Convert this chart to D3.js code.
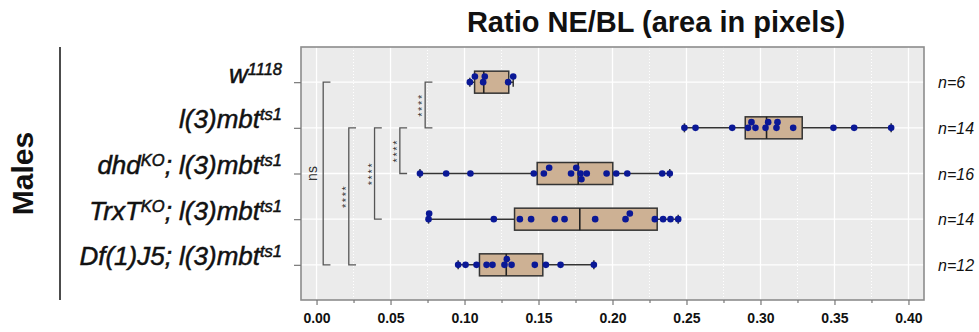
<!DOCTYPE html>
<html>
<head>
<meta charset="utf-8">
<script src="https://cdn.jsdelivr.net/npm/d3@7"></script>
<style>
  body { margin: 0; background: #fff; font-family: "Liberation Sans", Arial, sans-serif; }
</style>
</head>
<body>
<svg id="chart"></svg>
<script>
let width = 979;
let height = 332;

// genotypes (top to bottom)
const groups = ["w1118", "l(3)mbt", "dhd", "TrxT", "Df(1)J5"];
// label pieces: [text, superscript]
const labelParts = [
    [["w", "1118"]],
    [["l(3)mbt", "ts1"]],
    [["dhd", "KO"], ["; l(3)mbt", "ts1"]],
    [["TrxT", "KO"], ["; l(3)mbt", "ts1"]],
    [["Df(1)J5; l(3)mbt", "ts1"]]
];
const nLabels = ["n=6", "n=14", "n=16", "n=14", "n=12"];

// ratio NE/BL, one array per genotype
const ratio_w1118 = [0.1036, 0.1070, 0.1126, 0.1137, 0.1295, 0.1329];
const ratio_l3mbt = [0.2486, 0.2561, 0.2809, 0.2916, 0.2939, 0.2966, 0.3034, 0.3052, 0.3108, 0.3115, 0.3221, 0.3493, 0.3633, 0.3883];
const ratio_dhd = [0.0699, 0.0876, 0.1040, 0.1468, 0.1536, 0.1572, 0.1720, 0.1755, 0.1784, 0.1790, 0.1826, 0.1960, 0.2025, 0.2100, 0.2336, 0.2387];
const ratio_trxt = [0.0757, 0.0761, 0.1198, 0.1374, 0.1450, 0.1610, 0.1676, 0.1883, 0.2088, 0.2117, 0.2286, 0.2342, 0.2392, 0.2444];
const ratio_df = [0.0957, 0.1007, 0.1081, 0.1149, 0.1189, 0.1270, 0.1286, 0.1318, 0.1475, 0.1550, 0.1649, 0.1874];
const allRatios = [ratio_w1118, ratio_l3mbt, ratio_dhd, ratio_trxt, ratio_df];

// box hinges as drawn
const q1 = [0.1068, 0.2897, 0.1491, 0.1338, 0.1101];
const med = [0.1130, 0.3041, 0.1768, 0.1779, 0.1282];
const q3 = [0.1299, 0.3282, 0.2002, 0.2302, 0.1529];

// significance brackets
const bracketPairs = [["w1118", "Df(1)J5"], ["l(3)mbt", "Df(1)J5"], ["l(3)mbt", "TrxT"], ["l(3)mbt", "dhd"], ["w1118", "l(3)mbt"]];
const bracketPos = [0.0045, 0.0218, 0.0392, 0.0563, 0.0734];
const bracketLabels = ["ns", "****", "****", "****", "****"];

const majorTicks = [0, 0.05, 0.1, 0.15, 0.2, 0.25, 0.3, 0.35, 0.4];
const minorTicks = [0.025, 0.075, 0.125, 0.175, 0.225, 0.275, 0.325, 0.375];

let margin = {top: 47, right: 55, bottom: 32, left: 301};

let svg = d3.select('#chart')
    .attr('width', width)
    .attr('height', height);

let x = d3.scaleLinear()
    .domain([-0.0105, 0.4105])
    .range([margin.left, width - margin.right]);

let y = d3.scalePoint()
    .domain(groups)
    .range([margin.top, height - margin.bottom])
    .padding(0.77);

// panel
svg.append('rect')
    .attr('x', margin.left).attr('y', margin.top)
    .attr('width', width - margin.right - margin.left)
    .attr('height', height - margin.bottom - margin.top)
    .attr('fill', '#ebebeb');

let grid = svg.append('g');
grid.selectAll('.minor')
    .data(minorTicks)
    .join('line')
    .attr('x1', d => x(d)).attr('x2', d => x(d))
    .attr('y1', margin.top).attr('y2', height - margin.bottom)
    .attr('stroke', '#fff').attr('stroke-width', 1)
    .attr('stroke-dasharray', '1,2');
grid.selectAll('.major')
    .data(majorTicks)
    .join('line')
    .attr('x1', d => x(d)).attr('x2', d => x(d))
    .attr('y1', margin.top).attr('y2', height - margin.bottom)
    .attr('stroke', '#fff').attr('stroke-width', 1.3);
grid.selectAll('.hrow')
    .data(groups)
    .join('line')
    .attr('x1', margin.left).attr('x2', width - margin.right)
    .attr('y1', d => y(d)).attr('y2', d => y(d))
    .attr('stroke', '#fff').attr('stroke-width', 1.3);

// brackets
let br = svg.append('g');
bracketPairs.forEach((p, i) => {
    let bx = x(bracketPos[i]);
    let tip = x(bracketPos[i] + 0.0049) - bx;
    let y0 = y(p[0]), y1 = y(p[1]);
    br.append('path')
        .attr('d', `M${bx + tip},${y0}H${bx}V${y1}H${bx + tip}`)
        .attr('fill', 'none')
        .attr('stroke', '#555')
        .attr('stroke-width', 1.3);
    let isNs = bracketLabels[i] === 'ns';
    br.append('text')
        .attr('transform', `translate(${bx - (isNs ? 6 : -1)},${(y0 + y1) / 2}) rotate(-90)`)
        .attr('text-anchor', 'middle')
        .attr('font-size', isNs ? 14 : 11)
        .attr('letter-spacing', isNs ? 0 : 1.6)
        .attr('fill', '#333')
        .text(bracketLabels[i]);
});

// boxplots
let boxH = 22, capH = 9;
let boxes = svg.append('g');
groups.forEach((g, i) => {
    let cy = y(g);
    let ext = d3.extent(allRatios[i]);
    boxes.append('line')
        .attr('x1', x(ext[0])).attr('x2', x(ext[1]))
        .attr('y1', cy).attr('y2', cy)
        .attr('stroke', '#333').attr('stroke-width', 1.5);
    boxes.selectAll(null)
        .data(ext)
        .join('line')
        .attr('x1', d => x(d)).attr('x2', d => x(d))
        .attr('y1', cy - capH / 2).attr('y2', cy + capH / 2)
        .attr('stroke', '#333').attr('stroke-width', 1.5);
    boxes.append('rect')
        .attr('x', x(q1[i])).attr('y', cy - boxH / 2)
        .attr('width', x(q3[i]) - x(q1[i])).attr('height', boxH)
        .attr('fill', '#cdb194')
        .attr('stroke', '#333').attr('stroke-width', 1.5);
    boxes.append('line')
        .attr('x1', x(med[i])).attr('x2', x(med[i]))
        .attr('y1', cy - boxH / 2).attr('y2', cy + boxH / 2)
        .attr('stroke', '#222').attr('stroke-width', 1.6);
});

// simple beeswarm: discrete vertical offsets
function swarm(vals, step, minDist) {
    let placed = [];
    let order = vals.map((v, i) => i).sort((a, b) => vals[a] - vals[b]);
    let out = new Array(vals.length);
    order.forEach(i => {
        let px = x(vals[i]);
        for (let k of [0, -1, 1, -2, 2, -3, 3]) {
            let dy = k * step;
            let hit = placed.some(p => (p[0] - px) ** 2 + (p[1] - dy) ** 2 < minDist * minDist);
            if (!hit) {
                placed.push([px, dy]);
                out[i] = dy;
                break;
            }
        }
    });
    return out;
}

let pts = svg.append('g');
groups.forEach((g, i) => {
    let offs = swarm(allRatios[i], 5.7, 5.6);
    pts.selectAll(null)
        .data(allRatios[i])
        .join('circle')
        .attr('cx', d => x(d))
        .attr('cy', (d, j) => y(g) + offs[j])
        .attr('r', 3.3)
        .attr('fill', '#0a1896');
});

// panel border
svg.append('rect')
    .attr('x', margin.left).attr('y', margin.top)
    .attr('width', width - margin.right - margin.left)
    .attr('height', height - margin.bottom - margin.top)
    .attr('fill', 'none')
    .attr('stroke', '#8c8c8c').attr('stroke-width', 1.6);

// x axis
let xAxis = g => g
    .attr('transform', `translate(0,${height - margin.bottom})`)
    .call(d3.axisBottom(x).tickValues(majorTicks).tickFormat(d3.format('.2f')).tickSize(5).tickPadding(8))
    .call(g => g.select('.domain').remove())
    .call(g => g.selectAll('.tick line').attr('stroke', '#777').attr('stroke-width', 1.2))
    .call(g => g.selectAll('.tick text')
        .attr('font-family', '"Liberation Sans", Arial, sans-serif')
        .attr('font-size', 14).attr('font-weight', 'bold').attr('fill', '#111'));
svg.append('g').call(xAxis);

svg.append('g')
    .attr('transform', `translate(0,${height - margin.bottom})`)
    .call(d3.axisBottom(x).tickValues(minorTicks).tickFormat('').tickSize(3))
    .call(g => g.select('.domain').remove())
    .call(g => g.selectAll('.tick line').attr('stroke', '#777').attr('stroke-width', 1.2));

// y axis with rich labels
let yAxis = g => g
    .attr('transform', `translate(${margin.left},0)`)
    .call(d3.axisLeft(y).tickSize(7).tickPadding(12))
    .call(g => g.select('.domain').remove())
    .call(g => g.selectAll('.tick line').attr('stroke', '#777').attr('stroke-width', 1.2))
    .call(g => g.selectAll('.tick text')
        .attr('font-family', '"Liberation Sans", Arial, sans-serif')
        .attr('font-size', 26).attr('font-style', 'italic')
        .attr('fill', '#111').attr('stroke', '#111').attr('stroke-width', 0.5)
        .attr('dy', '0.42em')
        .each(function(d) {
            let t = d3.select(this).text('');
            labelParts[groups.indexOf(d)].forEach((part, k) => {
                t.append('tspan').attr('dy', k > 0 ? 8 : 0).text(part[0]);
                t.append('tspan').attr('font-size', 16.5).attr('dy', -8).text(part[1]);
            });
        }));
svg.append('g').call(yAxis);

// n labels
svg.append('g')
    .selectAll('text')
    .data(groups)
    .join('text')
    .attr('x', 938)
    .attr('y', d => y(d) + 6)
    .attr('font-size', 16).attr('font-style', 'italic').attr('fill', '#111')
    .text((d, i) => nLabels[i]);

// title
svg.append('text')
    .attr('x', 656).attr('y', 32)
    .attr('text-anchor', 'middle')
    .attr('font-size', 29).attr('font-weight', 'bold').attr('fill', '#111')
    .text('Ratio NE/BL (area in pixels)');

// side label
svg.append('line')
    .attr('x1', 60).attr('x2', 60)
    .attr('y1', margin.top).attr('y2', height - margin.bottom)
    .attr('stroke', '#111').attr('stroke-width', 1.5);
svg.append('text')
    .attr('transform', `translate(33,${(margin.top + height - margin.bottom) / 2}) rotate(-90)`)
    .attr('text-anchor', 'middle')
    .attr('font-size', 30).attr('font-weight', 'bold').attr('fill', '#111')
    .text('Males');
</script>
</body>
</html>
